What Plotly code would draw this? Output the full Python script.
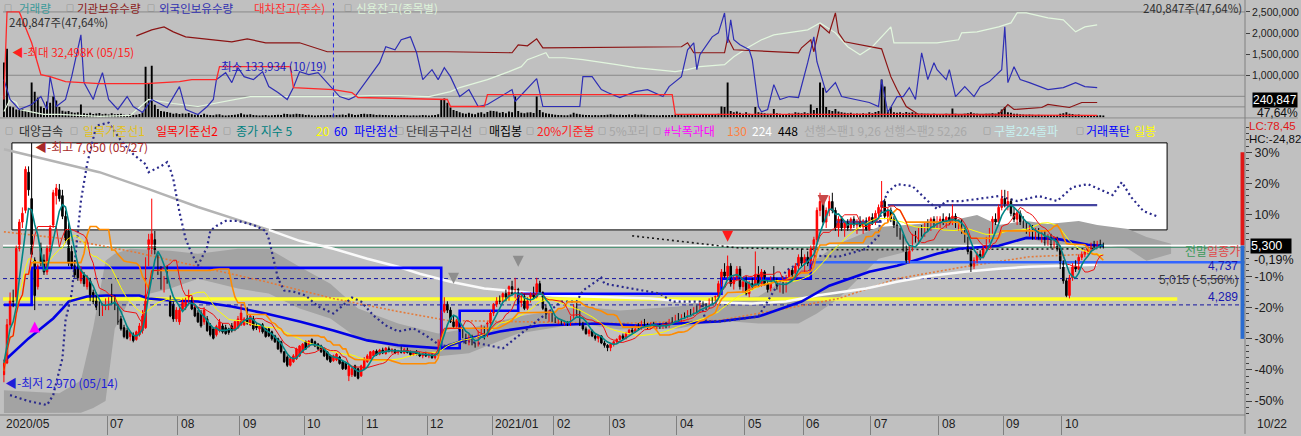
import pandas as pd
import plotly.graph_objects as go

# ======================= DATA =======================
FIRST_DAY, LAST_DAY = "2020-05-14", "2021-10-22"
KRX_HOLIDAYS = ["2020-08-17", "2020-09-30", "2020-10-01", "2020-10-02", "2020-10-09", "2020-12-25",
                "2020-12-31", "2021-01-01", "2021-02-11", "2021-02-12", "2021-03-01", "2021-05-05",
                "2021-05-19", "2021-08-16", "2021-09-20", "2021-09-21", "2021-09-22", "2021-10-04",
                "2021-10-11"]

# daily candles (won), one row per month
opens = (
    [3100, 3300, 3950, 4400, 4400, 5250, 5700, 5900, 6550, 6100, 5050, 4600] +
    [5250, 5050, 4850, 5200, 5650, 6150, 6250, 6150, 5800, 5550, 5200, 4950, 4900, 4700, 4800, 4600, 4700, 4500, 4450, 4300, 4150, 4250] +
    [4250, 4450, 4400, 4250, 4050, 3900, 3850, 3750, 3780, 3700, 3780, 3850, 3900, 5000, 5250, 5400, 5100, 4900, 4560, 4850, 4400, 4300, 4050] +
    [4000, 4220, 4250, 4350, 4400, 4250, 4150, 4150, 4000, 4050, 3930, 3880, 3780, 3850, 3930, 3900, 3880, 3930, 3860, 3900] +
    [3950, 3950, 4050, 3950, 4050, 3930, 3880, 3950, 3880, 3880, 3830, 3760, 3710, 3660, 3490, 3400, 3260, 3320, 3370, 3420, 3490] +
    [3660, 3580, 3700, 3660, 3620, 3590, 3540, 3490, 3420, 3340, 3350, 3400, 3320, 3300, 3080, 3100, 3250, 3200, 3080] +
    [3200, 3320, 3370, 3420, 3500, 3450, 3520, 3460, 3540, 3500, 3520, 3480, 3500, 3470, 3530, 3480, 3440, 3490, 3450, 3420, 3460] +
    [3420, 3440, 3390, 3440, 3650, 4180, 4300, 4200, 4000, 3920, 4000, 3850, 3750, 3650, 3760, 3620, 3600, 3820, 3900, 3760, 3980] +
    [4150, 4300, 4400, 4350, 4480, 4380, 4600, 4480, 4550, 4330, 4430, 4230, 4400, 4480, 4420, 4650, 4500, 4230, 4080, 4150] +
    [4030, 4000, 4020, 3980, 3990, 3950, 4080, 4250, 4150, 3950, 3880, 3800, 3850, 3760, 3720, 3760, 3640, 3600] +
    [3560, 3620, 3660, 3700, 3760, 3720, 3800, 3860, 3830, 3930, 3880, 4000, 3950, 3900, 3970, 3920, 3940, 3900, 3970, 3920, 4030, 4000] +
    [4100, 4020, 4110, 4080, 4180, 4120, 4230, 4170, 4300, 4280, 4230, 4380, 4320, 4430, 4650, 4850, 4780, 4950, 4650, 4750, 4900, 4600] +
    [4680, 4480, 4650, 4600, 4800, 4650, 4850, 4650, 4550, 4750, 4720, 4580, 4620, 4520, 4750, 4880, 4750, 4950, 5100] +
    [5000, 5100, 5000, 5250, 5400, 5900, 6050, 5700, 5900, 6050, 5900, 5600, 5750, 5600, 5700, 5600, 5750, 5650, 5700, 5620, 5720, 5580] +
    [5780, 5700, 5850, 5950, 6050, 5800, 5900, 5750, 5650, 5500, 5450, 5250, 5050, 5250, 5450, 5400, 5550, 5500, 5650, 5600, 5750, 5650] +
    [5700, 5750, 5700, 5780, 5700, 5800, 5650, 5700, 5550, 5400, 5200, 4950, 5050, 5150, 5100, 5250, 5400, 5550, 5750, 5700, 5950] +
    [6100, 6000, 6050, 5850, 5750, 5850, 5700, 5650, 5550, 5600, 5450, 5550, 5450, 5500, 5350, 5450, 5300, 5400, 5250] +
    [5000, 4700, 4450, 4750, 4950, 4900, 5100, 5150, 5200, 5250, 5300, 5280, 5350, 5310]
)
highs = (
    [3350, 4050, 4500, 4550, 5300, 5750, 5950, 6650, 6650, 7050, 5100, 4980] +
    [5350, 5150, 5300, 5650, 6250, 6350, 6350, 6250, 5900, 5700, 5300, 5050, 5000, 4950, 4850, 4800, 4750, 4550, 4500, 4350, 4320, 4400] +
    [4420, 4650, 4450, 4300, 4100, 3950, 3900, 3850, 3820, 3850, 3980, 4200, 5100, 5500, 6100, 5550, 5150, 4950, 4780, 4950, 4450, 4350, 4250] +
    [4250, 4400, 4420, 4550, 4420, 4300, 4200, 4200, 4250, 4100, 3980, 3900, 3950, 4050, 3980, 3950, 3900, 3980, 4020, 4100] +
    [4300, 4080, 4250, 4120, 4100, 3980, 3950, 3980, 3900, 3900, 3850, 3780, 3730, 3680, 3500, 3430, 3400, 3450, 3560, 3600, 3640] +
    [3680, 3690, 3720, 3680, 3640, 3610, 3560, 3500, 3440, 3440, 3470, 3420, 3340, 3320, 3270, 3220, 3270, 3220, 3270] +
    [3400, 3450, 3500, 3520, 3530, 3540, 3560, 3570, 3580, 3550, 3540, 3520, 3580, 3560, 3560, 3510, 3500, 3520, 3480, 3470, 3490] +
    [3470, 3460, 3460, 3700, 4200, 4420, 4350, 4250, 4100, 4050, 4020, 3880, 3800, 3800, 3780, 3650, 3850, 3950, 3920, 4000, 4200] +
    [4320, 4420, 4450, 4500, 4550, 4620, 4700, 4750, 4580, 4460, 4480, 4420, 4500, 4600, 4750, 4700, 4520, 4300, 4200, 4180] +
    [4080, 4050, 4040, 4020, 4010, 4100, 4300, 4320, 4200, 4000, 3920, 3880, 3870, 3800, 3780, 3770, 3680, 3620] +
    [3640, 3680, 3720, 3780, 3800, 3830, 3880, 3900, 3950, 3980, 4020, 4050, 3980, 3990, 4000, 3960, 3970, 3990, 4000, 4050, 4080, 4120] +
    [4150, 4130, 4160, 4200, 4220, 4250, 4280, 4330, 4350, 4320, 4400, 4420, 4450, 4700, 4900, 5000, 5130, 5000, 4800, 4950, 4950, 4720] +
    [4780, 4700, 4750, 5200, 4950, 4900, 4880, 4700, 4780, 4950, 4750, 4650, 4680, 4800, 4900, 4920, 5000, 5150, 5250] +
    [5150, 5200, 5300, 5450, 5950, 6200, 6100, 5950, 6150, 6200, 5950, 5800, 5800, 5720, 5750, 5780, 5800, 5750, 5800, 5750, 5780, 5800] +
    [5850, 5900, 6000, 6400, 6100, 5950, 5950, 5800, 5700, 5600, 5500, 5300, 5300, 5500, 5550, 5600, 5650, 5700, 5750, 5780, 5800, 5800] +
    [5800, 5850, 5800, 5850, 6000, 5850, 5750, 5750, 5600, 5450, 5250, 5100, 5200, 5220, 5300, 5450, 5600, 5800, 5850, 6000, 6250] +
    [6250, 6230, 6100, 5950, 5900, 5900, 5800, 5700, 5650, 5650, 5600, 5600, 5550, 5550, 5500, 5500, 5450, 5450, 5300] +
    [5050, 4750, 4800, 5000, 5050, 5150, 5200, 5250, 5300, 5350, 5380, 5380, 5400, 5350]
)
lows = (
    [2970, 3280, 3900, 4250, 4350, 5200, 5600, 5850, 6150, 5100, 4200, 4550] +
    [4950, 4800, 4800, 5150, 5600, 6000, 6050, 5750, 5350, 4950, 4900, 4750, 4700, 4650, 4600, 4550, 4350, 4300, 4200, 4100, 4100, 4200] +
    [4200, 4300, 4200, 3950, 3850, 3720, 3700, 3680, 3650, 3680, 3750, 3800, 3880, 4950, 5150, 5150, 4800, 4550, 4500, 4650, 4080, 4000, 4000] +
    [3950, 4200, 4200, 4300, 4200, 4080, 3980, 3900, 3950, 3830, 3750, 3700, 3750, 3820, 3800, 3780, 3780, 3820, 3840, 3880] +
    [3930, 3930, 3950, 3930, 3850, 3860, 3820, 3800, 3730, 3740, 3680, 3640, 3520, 3460, 3300, 3230, 3240, 3300, 3350, 3400, 3470] +
    [3520, 3560, 3620, 3570, 3520, 3470, 3400, 3340, 3300, 3320, 3330, 3270, 3180, 3180, 2990, 3060, 3060, 3020, 3060] +
    [3180, 3300, 3350, 3400, 3420, 3430, 3450, 3440, 3480, 3460, 3450, 3440, 3460, 3450, 3460, 3420, 3420, 3430, 3400, 3380, 3400] +
    [3380, 3370, 3360, 3420, 3620, 4150, 4150, 3980, 3880, 3880, 3830, 3720, 3620, 3600, 3600, 3560, 3580, 3750, 3700, 3740, 3950] +
    [4100, 4250, 4300, 4330, 4350, 4360, 4450, 4400, 4300, 4250, 4200, 4200, 4330, 4400, 4400, 4480, 4200, 4050, 4000, 4000] +
    [3980, 3960, 3950, 3940, 3930, 3930, 4050, 4100, 3930, 3850, 3780, 3750, 3740, 3680, 3650, 3620, 3560, 3500] +
    [3500, 3580, 3620, 3680, 3700, 3700, 3780, 3800, 3820, 3860, 3870, 3920, 3880, 3880, 3900, 3870, 3880, 3880, 3890, 3900, 3980, 3990] +
    [4000, 4000, 4060, 4060, 4100, 4100, 4150, 4150, 4250, 4200, 4220, 4300, 4300, 4400, 4600, 4750, 4700, 4600, 4550, 4700, 4550, 4500] +
    [4450, 4420, 4550, 4580, 4600, 4600, 4620, 4500, 4520, 4700, 4550, 4500, 4480, 4500, 4720, 4700, 4720, 4900, 4950] +
    [4850, 4950, 4980, 5200, 5350, 5800, 5650, 5600, 5800, 5850, 5550, 5450, 5550, 5450, 5550, 5550, 5600, 5500, 5600, 5500, 5550, 5550] +
    [5650, 5650, 5750, 5900, 5750, 5700, 5700, 5600, 5450, 5400, 5200, 5000, 5000, 5200, 5350, 5350, 5450, 5450, 5550, 5550, 5600, 5600] +
    [5600, 5650, 5600, 5650, 5650, 5600, 5550, 5500, 5350, 5150, 4850, 4900, 5000, 5050, 5080, 5200, 5350, 5500, 5650, 5650, 5900] +
    [5950, 5900, 5800, 5700, 5650, 5650, 5600, 5500, 5450, 5400, 5400, 5400, 5350, 5300, 5300, 5250, 5250, 5200, 4900] +
    [4650, 4420, 4400, 4700, 4850, 4880, 5050, 5100, 5150, 5200, 5250, 5250, 5250, 5250]
)
closes = (
    [3300, 3950, 4400, 4350, 5250, 5700, 5850, 6600, 6250, 5150, 4450, 4950] +
    [5000, 4850, 5250, 5600, 6200, 6280, 6100, 5800, 5400, 5000, 4950, 4800, 4750, 4900, 4650, 4750, 4400, 4350, 4250, 4150, 4300, 4350] +
    [4400, 4350, 4250, 4000, 3880, 3750, 3720, 3820, 3680, 3830, 3930, 4100, 5050, 5400, 5500, 5200, 4850, 4600, 4700, 4700, 4100, 4050, 4200] +
    [4200, 4330, 4390, 4450, 4220, 4100, 4000, 3930, 4200, 3850, 3780, 3720, 3920, 4000, 3830, 3800, 3820, 3850, 4000, 4050] +
    [4150, 4050, 3980, 4100, 3880, 3900, 3930, 3830, 3750, 3760, 3710, 3660, 3540, 3490, 3320, 3260, 3370, 3420, 3540, 3590, 3620] +
    [3540, 3670, 3640, 3590, 3540, 3490, 3420, 3360, 3320, 3420, 3450, 3290, 3200, 3200, 3250, 3200, 3080, 3040, 3250] +
    [3370, 3420, 3490, 3500, 3440, 3520, 3470, 3550, 3500, 3530, 3470, 3500, 3480, 3540, 3480, 3440, 3490, 3450, 3420, 3460, 3420] +
    [3440, 3390, 3440, 3650, 4150, 4300, 4200, 4000, 3920, 4020, 3850, 3750, 3650, 3760, 3620, 3600, 3820, 3900, 3760, 3980, 4150] +
    [4300, 4400, 4350, 4480, 4380, 4600, 4480, 4550, 4330, 4430, 4230, 4400, 4480, 4420, 4650, 4500, 4230, 4080, 4150, 4030] +
    [4000, 4020, 3980, 3990, 3950, 4080, 4250, 4150, 3950, 3880, 3800, 3850, 3760, 3720, 3760, 3640, 3600, 3560] +
    [3620, 3660, 3700, 3760, 3720, 3800, 3860, 3830, 3930, 3880, 4000, 3950, 3900, 3970, 3920, 3940, 3900, 3970, 3920, 4030, 4000, 4100] +
    [4020, 4110, 4080, 4180, 4120, 4230, 4170, 4300, 4280, 4230, 4380, 4320, 4430, 4650, 4850, 4780, 4950, 4650, 4750, 4900, 4600, 4680] +
    [4480, 4650, 4600, 4800, 4650, 4850, 4650, 4550, 4750, 4720, 4580, 4620, 4520, 4750, 4880, 4750, 4950, 5100, 5000] +
    [5100, 5000, 5250, 5400, 5900, 6050, 5700, 5900, 6050, 5900, 5600, 5750, 5600, 5700, 5600, 5750, 5650, 5700, 5620, 5720, 5580, 5780] +
    [5700, 5850, 5950, 6050, 5800, 5900, 5750, 5650, 5500, 5450, 5250, 5050, 5250, 5450, 5400, 5550, 5500, 5650, 5600, 5750, 5650, 5700] +
    [5750, 5700, 5780, 5700, 5800, 5650, 5700, 5550, 5400, 5200, 4950, 5050, 5150, 5100, 5250, 5400, 5550, 5750, 5700, 5950, 6100] +
    [6000, 6050, 5850, 5750, 5850, 5700, 5650, 5550, 5600, 5450, 5550, 5450, 5500, 5350, 5450, 5300, 5400, 5250, 5000] +
    [4700, 4450, 4750, 4950, 4900, 5100, 5150, 5200, 5250, 5300, 5280, 5350, 5310, 5300]
)
# daily volume (thousand shares)
volume_k = (
    [26000, 32498, 5200, 4800, 3800, 3500, 4000, 3200, 2900, 16500, 12200, 9400] +
    [5200, 4500, 7500, 7000, 9900, 8000, 5000, 3200, 2800, 3000, 2500, 2200, 2400, 6100, 2000, 1800, 2200, 1600, 1900, 2100, 1500, 1700] +
    [1400, 2000, 1500, 1600, 1800, 1300, 1200, 1500, 1100, 1300, 1600, 2500, 24000, 16000, 24500, 6000, 4000, 3000, 2800, 2600, 2200, 1800, 2000] +
    [1600, 1900, 1800, 2100, 1500, 1300, 1400, 1200, 1800, 1300, 1100, 1000, 1400, 1500, 1000, 900, 1000, 1100, 1300, 1500] +
    [2000, 1400, 1300, 1500, 1200, 1000, 900, 1000, 1100, 900, 1000, 1100, 1300, 1200, 1800, 1600, 1400, 1500, 1700, 1600, 1500] +
    [1200, 1300, 1000, 900, 1000, 1100, 1000, 1100, 1200, 1300, 1200, 1300, 1400, 1200, 1900, 1500, 1200, 1300, 1600] +
    [1800, 1500, 1600, 1400, 1200, 1300, 1100, 1200, 1000, 1100, 1000, 900, 1100, 1200, 1000, 900, 1000, 900, 1000, 1100, 1000] +
    [900, 1000, 1100, 1500, 8500, 9000, 7000, 4700, 3500, 3000, 2500, 2000, 1800, 2200, 1800, 1500, 2200, 2500, 1800, 2600, 3200] +
    [3000, 2800, 2200, 2600, 2000, 2800, 2400, 9900, 3000, 2200, 2000, 2300, 2400, 2100, 9900, 3500, 2400, 2000, 1700, 1500] +
    [1300, 1200, 1100, 1000, 1000, 1400, 2200, 1800, 1500, 1300, 1100, 1200, 1000, 1100, 1000, 1100, 1200, 1300] +
    [1500, 1300, 1200, 1300, 1100, 1200, 1400, 1200, 1500, 1300, 1400, 1300, 1100, 1200, 1100, 1000, 1000, 1100, 1000, 1200, 1100, 1300] +
    [1200, 1100, 1000, 1200, 1100, 1200, 1000, 1300, 1200, 1100, 1400, 1200, 1500, 1800, 5200, 5000, 16500, 3000, 2500, 2800, 2200, 1800] +
    [2400, 1800, 1600, 5000, 2500, 2200, 2000, 1700, 1800, 4000, 2000, 1800, 1600, 1500, 1900, 1800, 2400, 2200, 2000] +
    [2500, 2000, 6100, 3500, 4500, 16500, 14000, 5000, 3500, 3000, 4000, 2800, 2400, 2200, 2000, 2200, 1800, 1900, 1700, 2000, 1800, 2400] +
    [2000, 2600, 3000, 17900, 14600, 3500, 5000, 2500, 2200, 2400, 2000, 2600, 2200, 2400, 2000, 1800, 1900, 1700, 1800, 1600, 1700, 1500] +
    [1600, 1500, 1700, 1600, 4200, 1800, 1500, 1600, 1800, 2000, 2400, 1900, 1700, 1500, 1600, 1700, 1800, 2000, 1700, 2500, 3800] +
    [5000, 2400, 2200, 1800, 1700, 1500, 1400, 1300, 1400, 1300, 1200, 1300, 1200, 1100, 1200, 1100, 1200, 1100, 1800] +
    [2000, 2500, 1800, 1600, 1300, 1400, 1200, 1100, 1000, 1100, 1000, 900, 1000, 900]
)

# long moving averages / indicator lines (trading-day index, won)
ma60_t = [0, 8, 12, 16, 19, 21, 27, 33, 44, 47, 54, 63, 74, 85, 96, 107, 118, 128, 142, 151,
          161, 174, 193, 206, 232, 245, 259, 268, 281, 290, 303, 310, 323, 332, 342, 352, 357]
ma60_v = [3328, 3718, 3888, 4058, 4227, 4346, 4431, 4448, 4448, 4397, 4363, 4346, 4261, 4142, 4007, 3854, 3684, 3600, 3549, 3718,
          3837, 3939, 3973, 3939, 4007, 4091, 4346, 4617, 4855, 4957, 5160, 5245, 5296, 5431, 5414, 5313, 5296]
ma224_t = [0, 31, 47, 63, 83, 86, 96, 107, 118, 128, 135, 145, 156, 167, 178, 189, 200, 210, 221, 232,
           243, 254, 264, 280, 290, 301, 312, 323, 333, 344, 355]
ma224_v = [6941, 6551, 6262, 5957, 5618, 5567, 5381, 5245, 5076, 4940, 4821, 4685, 4567, 4516, 4448, 4431, 4414, 4397, 4346, 4329,
           4312, 4346, 4448, 4567, 4685, 4787, 4855, 4906, 4940, 4957, 4974]
ma130_t = [0, 20, 42, 63, 85, 107, 128, 144, 167, 200, 232, 254, 271, 290, 312, 333, 355]
ma130_v = [5534, 5414, 5194, 4940, 4685, 4397, 4176, 4024, 4007, 3973, 4024, 4227, 4397, 4736, 4940, 5109, 5160]
ma448_t = [204, 232, 238, 271, 355]
ma448_v = [5466, 5296, 5262, 5228, 5245]
blue_dot_t = [2, 8, 14, 16, 18, 19, 20, 22, 25, 27, 30, 34, 38, 42, 46, 47, 51, 53, 54, 55,
              57, 58, 59, 61, 63, 66, 67, 69, 72, 76, 81, 85, 86, 87, 88, 89, 91, 94, 98, 102,
              107, 110, 113, 116, 120, 124, 128, 133, 137, 142, 151, 162, 181, 186, 188, 194, 195, 213, 217, 226,
              228, 233, 245, 254, 259, 264, 271, 280, 284, 285, 287, 290, 295, 300, 303, 306, 311, 316, 323, 329,
              336, 342, 347, 352, 357, 360, 363, 366, 370, 375]
blue_dot_v = [2751, 2649, 2582, 2751, 3175, 3379, 4024, 4482, 6059, 6687, 7343, 7394, 7089, 6856, 6687, 6551, 6653, 6721, 6602, 6432,
              5872, 5618, 5414, 5160, 4957, 5279, 5550, 5635, 5720, 5720, 5652, 5550, 5414, 5194, 4940, 4736, 4533, 4516, 4448, 4261,
              4142, 4278, 4414, 4346, 4108, 3939, 3837, 3888, 3769, 3583, 3667, 3549, 4346, 4346, 4533, 4753, 4651, 4482, 4346, 4346,
              4007, 4007, 4091, 4872, 5024, 5126, 5109, 5245, 5466, 5974, 6212, 6347, 6313, 6059, 5923, 6059, 6059, 6093, 6144, 6059,
              6144, 6059, 6296, 6347, 6229, 6161, 6381, 6127, 5889, 5788]
cloud_t = [0, 18, 25, 29, 33, 36, 41, 54, 63, 76, 86, 96, 106, 115, 128, 141, 151, 167, 187, 200,
           219, 232, 245, 258, 264, 271, 284, 297, 310, 316, 323, 332, 339, 349, 355, 365, 371, 379]
cloud_top = [2836, 2785, 3000, 3900, 5041, 5160, 5245, 5211, 5160, 5245, 5245, 4940, 4651, 4227, 3973, 3803, 3888, 4091, 4261, 4193,
             4261, 4397, 4431, 4872, 5076, 5330, 5618, 5669, 5754, 5822, 5652, 5720, 5669, 5720, 5652, 5584, 5448, 5330]
cloud_bot = [2446, 2446, 2450, 2530, 2650, 3888, 4397, 4567, 4736, 4567, 4482, 4227, 4058, 3718, 3549, 3413, 3464, 3803, 3973, 3871,
             3888, 4024, 3973, 3973, 4142, 4397, 5076, 5245, 5279, 5330, 5245, 5448, 5330, 5279, 5330, 5245, 5041, 5160]
step_t = [0, 9, 9, 142, 142, 148, 148, 167, 167, 233, 233, 262, 262]
step_v = [4289, 4289, 4920, 4920, 3549, 3549, 4190, 4190, 4480, 4480, 4737, 4737, 5015]
slate1_t, slate1_v = [270, 285], [5703, 5703]
slate2_t, slate2_v = [287, 355], [5990, 5990]
level_5015, level_5015_start = 5015, 262
level_4737, level_4289 = 4737, 4289
yellow_level, yellow_end = 4390, 381
prev_month_close = 5270
box_t0, box_t1, box_bottom = 2.6, 377.7, 5567
lc_pct, hc_pct = 30, -30
lc_value, hc_value = 78.45, -24.82
arrows = [  # (day index, price, symbol, colour)
    (235, 5364, "arrow-down", "#FF1A1A"),
    (266, 5974, "arrow-down", "#C84848"),
    (146, 4651, "arrow-down", "#8E8E8E"),
    (167, 4940, "arrow-down", "#8E8E8E"),
    (10, 4007, "arrow-up", "#FF00FF"),
]

# top panel holdings (thousand shares)
lend_t = [0, 1, 5, 7, 9, 12, 15, 20, 31, 46, 57, 61, 69, 70, 93, 94, 107, 113, 115, 144, 145, 156, 157, 217, 218, 290, 355]
lend_k = [425, 2500, 2500, 2146, 1769, 1014, 967, 849, 802, 802, 849, 896, 896, 1203, 1203, 708, 660, 590, 472, 425, 259, 259, 542, 542, 71, 71, 47]
inst_t = [43, 48, 52, 55, 59, 68, 74, 79, 85, 96, 100, 105, 144, 165, 167, 170, 173, 175, 220, 222,
          224, 234, 235, 237, 258, 259, 262, 263, 265, 268, 270, 271, 273, 285, 288, 290, 293, 297, 323, 326,
          328, 337, 339, 346, 350, 355]
inst_k = [1934, 2075, 2146, 2028, 1910, 1840, 1792, 1863, 1769, 1769, 1675, 1557, 1557, 1533, 1722, 1698, 1863, 1651, 1675, 1769,
          1533, 1533, 1887, 1604, 1533, 1651, 1840, 1557, 2193, 2005, 2476, 2005, 1792, 1627, 967, 660, 259, 71, 71, 307,
          189, 236, 307, 236, 354, 354]
foreign_t = [0, 2, 5, 9, 12, 14, 15, 17, 20, 22, 25, 26, 29, 30, 32, 34, 37, 40, 42, 45,
             48, 53, 57, 59, 63, 66, 68, 69, 72, 74, 76, 78, 81, 84, 86, 89, 92, 94, 96, 99,
             102, 106, 109, 112, 114, 118, 122, 124, 127, 129, 132, 134, 136, 139, 141, 143, 145, 148, 151, 154,
             157, 165, 166, 173, 175, 187, 188, 191, 194, 196, 200, 205, 209, 214, 216, 220, 222, 224, 225, 226,
             230, 232, 234, 235, 236, 237, 239, 242, 243, 245, 246, 248, 250, 252, 255, 258, 259, 261, 263, 264,
             267, 270, 272, 276, 281, 284, 285, 287, 290, 292, 294, 296, 298, 300, 302, 303, 306, 307, 309, 312,
             315, 317, 320, 324, 325, 326, 328, 330, 333, 339, 344, 348, 351, 355]
foreign_k = [896, 425, 189, 307, 495, 189, 967, 259, 425, 967, 1958, 825, 425, 660, 1061, 425, 189, 495, 259, 118,
             425, 236, 731, 189, 71, 259, 425, 896, 1061, 825, 1179, 967, 896, 1085, 731, 590, 425, 708, 1085, 1014,
             1061, 731, 495, 425, 495, 896, 1297, 1675, 1604, 1840, 1910, 1533, 896, 1132, 896, 1179, 967, 495, 660, 259,
             307, 660, 377, 920, 259, 259, 967, 967, 660, 590, 472, 613, 660, 495, 731, 967, 1604, 1769, 1132, 1486,
             1910, 2005, 2476, 1769, 2311, 1840, 1722, 1604, 1368, 259, 134, 189, 778, 425, 495, 472, 731, 1297, 1910, 1321,
             590, 825, 495, 425, 354, 259, 896, 118, 495, 495, 708, 425, 1533, 896, 1297, 1132, 896, 1132, 495, 731,
             495, 731, 849, 1132, 2146, 825, 1203, 896, 825, 660, 708, 825, 731, 708]
credit_t = [0, 2, 4, 5, 8, 13, 18, 31, 41, 47, 55, 63, 80, 96, 106, 119, 128, 138, 145, 148,
            157, 164, 168, 170, 176, 177, 182, 188, 193, 199, 205, 212, 218, 222, 226, 234, 237, 242, 246, 250,
            257, 261, 265, 270, 274, 278, 282, 285, 288, 289, 297, 303, 310, 311, 316, 323, 327, 329, 332, 339,
            344, 348, 351, 355]
credit_k = [142, 425, 354, 189, 142, 71, 71, 24, 47, 425, 330, 259, 495, 495, 495, 519, 519, 495, 613, 708,
            896, 1085, 1203, 1368, 1533, 1415, 1415, 1368, 1321, 1250, 1179, 1132, 1085, 1132, 1203, 1250, 1439, 1675, 1840, 1958,
            2028, 2075, 2241, 2005, 1675, 1486, 1675, 1910, 2146, 1769, 1769, 1769, 1840, 2005, 2028, 2146, 2241, 2476, 2476, 2358,
            2311, 2028, 2146, 2193]
top_grid_k = [2500, 1000, 500, 250]
top_ticks_k = [1000, 1500, 2000, 2500]
foreign_min_value, foreign_min_day = 133934, "2020-10-19"
holding_last, holding_pct = 240847, 47.64

# ======================= LAYOUT CONSTANTS =======================
W, H = 1301, 436
ML, MR, MT, MB = 3, 53, 2, 19
CJK = "Noto Sans CJK KR"
NUM = "Liberation Sans"
X0, X1 = -0.3, 403.0
ZERO_PX, PX100 = 246.75, 312.5          # main panel: 0% line and pixels per 100 %
MAIN_TOP_PX, TOP_BOT_PX = 120, 118
MIN_LABEL_GAP = 14                      # trading days between date labels


def pxx(px):
    return (px - ML) / (W - ML - MR)


def pxy(py):
    return (H - MB - py) / (H - MT - MB)


dates = [d for d in pd.bdate_range(FIRST_DAY, LAST_DAY) if d.strftime("%Y-%m-%d") not in KRX_HOLIDAYS]
N = len(dates)
assert len(opens) == len(highs) == len(lows) == len(closes) == len(volume_k) == N, (
    len(opens), len(highs), len(lows), len(closes), len(volume_k), N)
t = list(range(N))
P0 = closes[-1]
PLO = P0 * (1 - (H - MB - ZERO_PX) / PX100)
PHI = P0 * (1 + (ZERO_PX - MAIN_TOP_PX) / PX100)
VOL_TOP = max(volume_k) * (TOP_BOT_PX - MT) / (TOP_BOT_PX - 49)
HOLD_TOP = 2500 * (TOP_BOT_PX - MT) / (TOP_BOT_PX - 12)
DOM_TOP0 = pxy(TOP_BOT_PX)
DOM_MAIN1 = pxy(MAIN_TOP_PX)

cs = pd.Series(closes)
hs, ls = pd.Series(highs), pd.Series(lows)
ma5 = cs.rolling(5, min_periods=1).mean()
ma20 = cs.rolling(20, min_periods=1).mean()
kijun = (hs.rolling(26, min_periods=1).max() + ls.rolling(26, min_periods=1).min()) / 2
tenkan = (hs.rolling(9, min_periods=1).max() + ls.rolling(9, min_periods=1).min()) / 2

fig = go.Figure()


def line(x, y, color, width=1.0, dash=None, yaxis="y2", fill=None, fillcolor=None):
    fig.add_trace(go.Scatter(x=x, y=y, mode="lines", xaxis="x", yaxis=yaxis, hoverinfo="skip",
                             line=dict(color=color, width=width, dash=dash), fill=fill, fillcolor=fillcolor))


# ---------------- top panel ----------------
fig.add_trace(go.Bar(x=t, y=volume_k, xaxis="x", yaxis="y", width=0.62, hoverinfo="skip",
                     marker=dict(color="#000000", line=dict(width=0))))
line(credit_t, credit_k, "#E2F6DE", 1.2, yaxis="y3")
line(inst_t, inst_k, "#8B1414", 1.2, yaxis="y3")
line(foreign_t, foreign_k, "#2E2EB4", 1.2, yaxis="y3")
line(lend_t, lend_k, "#FF2828", 1.3, yaxis="y3")

# ---------------- main panel ----------------
line(cloud_t, cloud_bot, "rgba(0,0,0,0)", 0)
line(cloud_t, cloud_top, "rgba(0,0,0,0)", 0, fill="tonexty", fillcolor="#A3A3A3")
line([X0, yellow_end], [yellow_level] * 2, "#FFFF30", 3.5)
line([X0, X1], [level_4737] * 2, "#1414A0", 1, dash="4px,3px")
line([X0, X1], [level_4289] * 2, "#1414A0", 1, dash="4px,3px")
line([X0, X1], [prev_month_close] * 2, "#3C8C6A", 1)
line([X0, X1], [P0] * 2, "#FFFFFF", 1.6)
line(ma448_t, ma448_v, "#1A1A1A", 1.6, dash="2px,3px")
line(ma130_t, ma130_v, "#E47A3A", 1.6, dash="2px,2px")
g_t = [a for a, b in zip(ma224_t, ma224_v) if b >= box_bottom]
g_v = [b for b in ma224_v if b >= box_bottom]
w_t = [a for a, b in zip(ma224_t, ma224_v) if b <= box_bottom]
w_v = [b for b in ma224_v if b <= box_bottom]
line(g_t, g_v, "#B4B4B4", 2.5)
line(w_t, w_v, "#FAFAFA", 2.5)
line(ma60_t, ma60_v, "#0000E6", 2.6)
line(step_t, step_v, "#0000FF", 2.6)
line([level_5015_start, X1], [level_5015] * 2, "#3366FF", 2.6)
line(slate1_t, slate1_v, "#4444A0", 2.2)
line(slate2_t, slate2_v, "#4444A0", 2.2)
line(blue_dot_t, blue_dot_v, "#2A2A8C", 2.2, dash="2px,3px")

# candles
up = [i for i in t if closes[i] >= opens[i]]
dn = [i for i in t if closes[i] < opens[i]]
for idx, col in ((up, "#FF0000"), (dn, "#000000")):
    wx, wy = [], []
    for i in idx:
        wx += [i, i, None]
        wy += [lows[i], highs[i], None]
    fig.add_trace(go.Scatter(x=wx, y=wy, mode="lines", xaxis="x", yaxis="y2", hoverinfo="skip",
                             line=dict(color=col, width=1)))
    fig.add_trace(go.Bar(x=idx, y=[abs(closes[i] - opens[i]) for i in idx],
                         base=[min(closes[i], opens[i]) for i in idx], xaxis="x", yaxis="y2",
                         width=0.5, hoverinfo="skip", marker=dict(color=col, line=dict(color=col, width=1))))

line(t, ma20, "#FFFF00", 1)
line(t, kijun, "#FF8C00", 1.6)
line(t, tenkan, "#F01010", 1)
line(t, ma5, "#008585", 1.6)

# LC / HC bars at right edge
xb = X1 - 0.8
line([xb, xb], [P0 * (1 + lc_pct / 100), P0], "#E01818", 4)
line([xb, xb], [P0, P0 * (1 + hc_pct / 100)], "#2A6CD0", 4)

for (ai, ap, sym, col) in arrows:
    fig.add_trace(go.Scatter(x=[ai], y=[ap], mode="markers", xaxis="x", yaxis="y2", hoverinfo="skip",
                             marker=dict(symbol=sym, size=11, color=col, line=dict(width=0))))

# ---------------- annotations ----------------
ann = []


def lab(px, py, text, color, size=12, anchor="left", family=CJK, **kw):
    ann.append(dict(xref="paper", yref="paper", x=pxx(px), y=pxy(py), text=text, showarrow=False,
                    xanchor=anchor, yanchor="middle", font=dict(family=family, size=size, color=color), **kw))


BOX = "□"
top_legend = [(2, BOX, "#707070"), (17, "거래량", "#3A9A9A"), (64, BOX, "#707070"), (75, "기관보유수량", "#8B1A1A"),
              (145, BOX, "#707070"), (157, "외국인보유수량", "#3030B0"), (253, "대차잔고(주수)", "#FF3030"),
              (343, BOX, "#707070"), (355, "신용잔고(종목별)", "#DDF3DA")]
for px, txt, col in top_legend:
    lab(px, 8, txt, col, size=8 if txt == BOX else 11.5)

main_legend = [(3, BOX, "#707070"), (17, "대양금속", "#303030"), (68, BOX, "#707070"), (81, "일목기준선1", "#E2C020"),
               (154, "일목기준선2", "#FF0000"), (222, BOX, "#707070"), (235, "종가 지수 5", "#008080"),
               (315, "20", "#FFFF00"), (333, "60", "#0000FF"), (353, "파란점선", "#0000FF"), (395, BOX, "#707070"),
               (405, "단테공구리선", "#404040"), (478, BOX, "#707070"), (488, "매집봉", "#000000"), (525, BOX, "#707070"),
               (536, "20%기준봉", "#FF2020"), (597, BOX, "#707070"), (608, "5%꼬리", "#A6A6A6"), (653, BOX, "#707070"),
               (664, "#낙폭과대", "#FF00FF"), (727, "130", "#FF8040"), (752, "224", "#FFFFFF"), (778, "448", "#000000"),
               (804, "선행스팬1 9,26 선행스팬2 52,26", "#A8A8A8"), (983, BOX, "#707070"), (994, "구불224돌파", "#C8F0F0"),
               (1077, BOX, "#707070"), (1087, "거래폭탄", "#0000FF"), (1135, "일봉", "#FFFF00")]
for px, txt, col in main_legend:
    lab(px, 131, txt, col, size=8 if txt == BOX else 12)

hold_txt = f"{holding_last:,}주({holding_pct:.2f}%)".replace(".", ",")
lab(7, 22, hold_txt, "#303030", 11.5)
lab(1247, 8, hold_txt, "#303030", 11.5, anchor="right")

vmax_i = max(t, key=lambda i: volume_k[i])
ann.append(dict(xref="x", yref="y", x=vmax_i + 1.0, y=max(volume_k), yshift=-3, showarrow=False, xanchor="left",
                yanchor="middle", text=f"◀-최대 {max(volume_k):,}K ({dates[vmax_i].strftime('%m/%d')})",
                font=dict(family=CJK, size=11.5, color="#FF2020")))
fmin_i = [d.strftime("%Y-%m-%d") for d in dates].index(foreign_min_day)
ann.append(dict(xref="x", yref="paper", x=fmin_i, xshift=-4, y=pxy(66), showarrow=False, xanchor="right",
                yanchor="middle", text=f"최소 {foreign_min_value:,} ({dates[fmin_i].strftime('%m/%d')})",
                font=dict(family=CJK, size=11.5, color="#2020C0")))

hi_i = max(t, key=lambda i: highs[i])
lo_i = min(t, key=lambda i: lows[i])
ann.append(dict(xref="x", yref="y2", x=hi_i, xshift=1, y=highs[hi_i], yshift=-4, showarrow=False, xanchor="left",
                yanchor="middle", text=f"◀-최고 {highs[hi_i]:,} ({dates[hi_i].strftime('%m/%d')})",
                font=dict(family=CJK, size=12, color="#A82828")))
ann.append(dict(xref="x", yref="y2", x=X0, y=lows[lo_i], showarrow=False, xanchor="left",
                yanchor="middle", text=f"◀-최저 {lows[lo_i]:,} ({dates[lo_i].strftime('%m/%d')})",
                font=dict(family=CJK, size=12, color="#1E1ED8")))

# right-side labels
chg = (closes[-1] / closes[-2] - 1) * 100
ann.append(dict(xref="paper", yref="y2", x=pxx(1253), y=P0, showarrow=False, xanchor="left", yanchor="middle",
                text=f"{P0:,}", bgcolor="#000000", width=40, align="left", borderpad=0,
                font=dict(family=NUM, size=12.5, color="#FFFFFF")))
ann.append(dict(xref="paper", yref="y2", x=pxx(1255), y=P0, yshift=-14, showarrow=False, xanchor="left",
                yanchor="middle", text=f"{chg:.2f}%".replace(".", ","), font=dict(family=NUM, size=12.5, color="#101010")))
lab(1250, 127, f"LC:{lc_value:.2f}".replace(".", ","), "#E01818", 11.5, family=NUM)
lab(1250, 140, f"HC:{hc_value:.2f}".replace(".", ","), "#101010", 11.5, family=NUM)
lab(1255, 100.5, f"{holding_last:,}", "#FFFFFF", 12, family=NUM, bgcolor="#000000", borderpad=0)
lab(1258, 113.5, f"{holding_pct:.2f}%".replace(".", ","), "#101010", 12, family=NUM)
lab(1245, 251.5, '<span style="color:#3C9A5A">전말</span><span style="color:#E04848">일종가</span>', "#3C9A5A", 12,
    anchor="right")
pct5015 = (level_5015 / closes[-2] - 1) * 100
lab(1243, 281, f"{level_5015:,} ({pct5015:.2f}%)".replace(".", ","), "#383838", 12, anchor="right", family=NUM)
lab(1243, 267, f"{level_4737:,}", "#1818B0", 12, anchor="right", family=NUM)
lab(1243, 298, f"{level_4289:,}", "#1818B0", 12, anchor="right", family=NUM)

# month labels on the date axis (a month too close to the first label is skipped, as in the original)
month_idx = [i for i in t if i == 0 or dates[i].month != dates[i - 1].month]
month_idx = [i for i in month_idx if i == 0 or i >= MIN_LABEL_GAP]
for i in month_idx:
    txt = dates[i].strftime("%Y/%m") if (i == 0 or dates[i].month == 1) else dates[i].strftime("%m")
    ann.append(dict(xref="x", yref="paper", x=max(i - 0.5, X0), xshift=1, y=pxy(426), showarrow=False,
                    xanchor="left", yanchor="middle", text=txt, font=dict(family=NUM, size=12, color="#202020")))
lab(1258, 426, dates[-1].strftime("%m/%d"), "#202020", 12, family=NUM)

# ---------------- shapes ----------------
shapes = [
    dict(type="rect", xref="x", yref="y2", x0=box_t0, x1=box_t1, y0=box_bottom, y1=max(highs),
         fillcolor="#FFFFFF", line=dict(color="#000000", width=1), layer="below"),
    dict(type="line", xref="x", yref="paper", x0=fmin_i, x1=fmin_i, y0=DOM_TOP0, y1=pxy(3),
         line=dict(color="#2020E0", width=1, dash="4px,3px")),
    dict(type="line", xref="paper", yref="paper", x0=pxx(0), x1=pxx(W), y0=pxy(118.5), y1=pxy(118.5),
         line=dict(color="#8C8C8C", width=1)),
    dict(type="line", xref="paper", yref="paper", x0=1, x1=1, y0=pxy(H), y1=pxy(0),
         line=dict(color="#808080", width=1)),
    dict(type="line", xref="paper", yref="paper", x0=pxx(0), x1=1, y0=0, y1=0,
         line=dict(color="#808080", width=1)),
]
for g in top_grid_k:
    shapes.append(dict(type="line", xref="paper", yref="y3", x0=0, x1=1, y0=g, y1=g,
                       line=dict(color="#888888", width=1), layer="below"))

pct_ticks = [30, 20, 10, -10, -20, -30, -40, -50]
minor_vals = [P0 * (1 + q / 100) for q in range(-56, 42, 2) if q % 10 != 0]

fig.update_layout(
    width=W, height=H, margin=dict(l=ML, r=MR, t=MT, b=MB),
    paper_bgcolor="#C0C0C0", plot_bgcolor="#C0C0C0", showlegend=False, barmode="overlay",
    font=dict(family=NUM, size=12, color="#202020"),
    xaxis=dict(range=[X0, X1], anchor="y2", showgrid=False, zeroline=False, showline=False,
               tickmode="array", tickvals=[i - 0.5 for i in month_idx[1:]], ticks="outside", ticklen=19,
               tickcolor="#808080", tickwidth=1, showticklabels=False),
    yaxis=dict(domain=[DOM_TOP0, 1], range=[0, VOL_TOP], showgrid=False, zeroline=False,
               showticklabels=False, ticks=""),
    yaxis3=dict(overlaying="y", anchor="x", side="right", range=[0, HOLD_TOP], showgrid=False, zeroline=False,
                tickmode="array", tickvals=top_ticks_k, ticktext=[f"{v * 1000:,}" for v in top_ticks_k],
                ticks="outside", ticklen=4, tickcolor="#404040", tickfont=dict(family=NUM, size=10.5)),
    yaxis2=dict(domain=[0, DOM_MAIN1], anchor="x", side="right", range=[PLO, PHI], showgrid=False, zeroline=False,
                tickmode="array", tickvals=[P0 * (1 + p / 100) for p in pct_ticks],
                ticktext=[f"{p}%" for p in pct_ticks], ticks="outside", ticklen=6, tickcolor="#404040",
                tickfont=dict(family=NUM, size=12.5),
                minor=dict(tickmode="array", tickvals=minor_vals, ticks="outside", ticklen=3, tickcolor="#404040")),
    annotations=ann, shapes=shapes,
)

fig.write_html("out.html", config={"displayModeBar": False, "staticPlot": True},
               post_script="document.body.style.margin='0px';document.body.style.padding='0px';"
                           "document.body.style.overflow='hidden';")
